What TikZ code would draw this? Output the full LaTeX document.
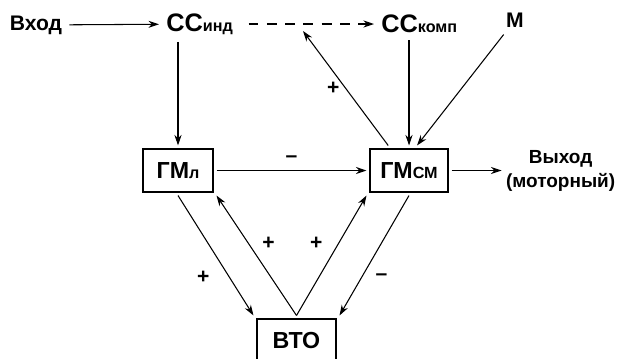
\documentclass[tikz,border=0pt]{standalone}
\usepackage{fontspec}
\setmainfont{Liberation Sans}
\usepackage{tikz}
\usetikzlibrary{arrows.meta, positioning}

\newcommand{\lowidx}[1]{{\fontsize{11.5}{11.5}\selectfont #1}}

\begin{document}
\begin{tikzpicture}[
    x=0.025cm, y=-0.025cm,
    box/.style={draw, line width=1.1pt, minimum height=1.075cm, inner sep=2pt,
                outer sep=2.5pt, font=\fontsize{16.5}{16.5}\selectfont\bfseries},
    lbl/.style={inner sep=5pt, font=\fontsize{15}{15}\selectfont\bfseries},
    cc/.style={inner sep=5pt, font=\fontsize{18}{18}\selectfont\bfseries},
    sign/.style={font=\fontsize{15}{15}\selectfont\bfseries, inner sep=1pt},
    arr/.style={-{Stealth[length=7.5pt, width=5pt]}, line width=0.75pt}
]
\useasboundingbox (0,0) rectangle (624,358);

\node[lbl] (inp) at (36,25) {Вход};
\node[cc, anchor=west] (ssind)  at (159,24) {СС\lowidx{инд}};
\node[cc, anchor=west] (sskomp) at (374,24) {СС\lowidx{комп}};
\node[lbl] (mot) at (515,20) {М};

\node[box, minimum width=1.75cm]  (gml)  at (178,170.5) {ГМ\lowidx{л}};
\node[box, minimum width=1.95cm]  (gmsm) at (409,170.5) {ГМ\lowidx{СМ}};
\node[box, minimum width=1.975cm] (vto)  at (296.5,340.5) {ВТО};

\node[align=center, inner sep=3pt, font=\fontsize{13.5}{17}\selectfont\bfseries,
      right=0.05cm of gmsm.east, xshift=1.2cm] (out) {Выход\\(моторный)};

% верхний ряд
\draw[arr] (inp) -- (ssind);
\draw[arr, dashed, dash pattern=on 7pt off 6pt, shorten <=6pt] (ssind) -- (sskomp);
\coordinate (dtip) at (303,31);

\draw[arr] (ssind.south -| gml.north) -- (gml.north);
\draw[arr] (sskomp.south -| gmsm.north) -- (gmsm.north);
\draw[arr] (mot) -- ([xshift=0.2cm]gmsm.north);
\draw[arr] ([xshift=-0.52cm]gmsm.north) -- node[sign, pos=0.5, left=3pt]{+} (dtip);

% средний ряд
\draw[arr] (gml) -- node[sign, above=4pt]{–} (gmsm);
\draw[arr] (gmsm.east) -- (gmsm.east -| out.west);

% нижний треугольник
\draw[arr] (gml.south) -- node[sign, pos=0.68, left=0.45cm]{+} (vto.north west);
\draw[arr] (vto.north) -- node[sign, pos=0.6, right=0.3cm]{+} (gml.south east);
\draw[arr] (vto.north) -- node[sign, pos=0.6, left=0.35cm]{+} (gmsm.south west);
\draw[arr] (gmsm.south) -- node[sign, pos=0.68, right=0.3cm]{–} (vto.north east);
\end{tikzpicture}
\end{document}
